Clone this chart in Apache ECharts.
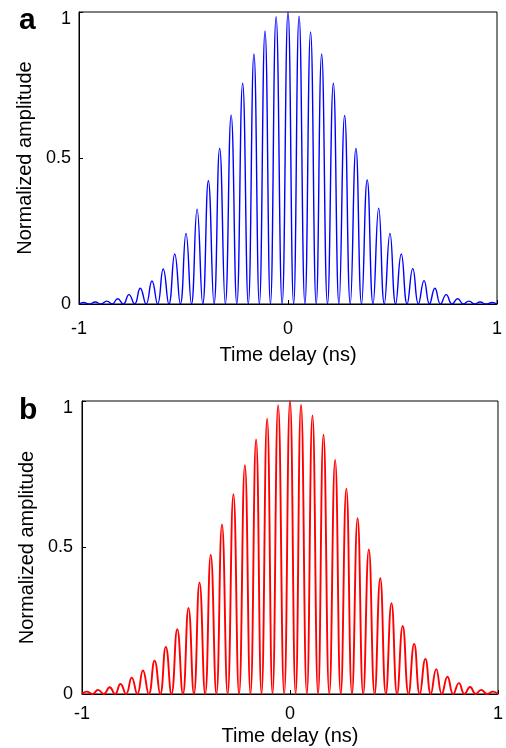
<!DOCTYPE html>
<html>
<head>
<meta charset="utf-8">
<script src="https://cdn.jsdelivr.net/npm/echarts@6/dist/echarts.min.js"></script>
<style>
  html, body { margin: 0; padding: 0; background: #fff; }
  #chart { width: 506px; height: 748px; }
</style>
</head>
<body>
<div id="chart"></div>
<script>
// fringe peak positions (ns), same comb in both panels
const peakTime = [-0.978, -0.923, -0.867, -0.815, -0.761, -0.707, -0.651, -0.597, -0.542, -0.488,
  -0.435, -0.381, -0.327, -0.272, -0.217, -0.163, -0.110, -0.057, 0, 0.053, 0.108, 0.161, 0.217,
  0.271, 0.325, 0.379, 0.434, 0.488, 0.542, 0.597, 0.651, 0.703, 0.757, 0.812, 0.866, 0.919, 0.976]
// dark fringes between the peaks (amplitude ~0)
const valleyTime = [-0.950, -0.895, -0.841, -0.788, -0.734, -0.679, -0.624, -0.570, -0.515, -0.462,
  -0.408, -0.354, -0.300, -0.245, -0.190, -0.137, -0.084, -0.028, 0.027, 0.081, 0.135, 0.189,
  0.244, 0.298, 0.352, 0.407, 0.461, 0.515, 0.570, 0.624, 0.677, 0.730, 0.785, 0.839, 0.893, 0.948]
// peak heights, panel a (blue)
const peakA = [0.005, 0.007, 0.010, 0.018, 0.032, 0.054, 0.079, 0.120, 0.171, 0.242, 0.325, 0.422,
  0.533, 0.647, 0.756, 0.856, 0.935, 0.984, 1.0, 0.986, 0.932, 0.856, 0.756, 0.646, 0.533, 0.425,
  0.328, 0.242, 0.171, 0.121, 0.080, 0.054, 0.032, 0.018, 0.010, 0.007, 0.005]
// peak heights, panel b (red)
const peakB = [0.008, 0.014, 0.023, 0.034, 0.056, 0.080, 0.114, 0.161, 0.221, 0.294, 0.380, 0.475,
  0.579, 0.682, 0.781, 0.869, 0.940, 0.986, 1.0, 0.987, 0.951, 0.885, 0.799, 0.701, 0.600, 0.493,
  0.395, 0.310, 0.232, 0.171, 0.120, 0.085, 0.059, 0.037, 0.024, 0.014, 0.008]
const yTicks = [0, 0.5, 1]
const xRange = [-1, 1]

const font = 'Liberation Sans, Arial, Helvetica, sans-serif'

function trace(peaks) {
  const pts = [[xRange[0], 0]]
  peakTime.forEach((t, i) => {
    pts.push([t, peaks[i]])
    if (i < valleyTime.length) pts.push([valleyTime[i], 0])
  })
  pts.push([xRange[1], 0])
  return pts
}

function xAxis(gridIndex, labelMargin, nameGap) {
  return {
    type: 'value', gridIndex, min: xRange[0], max: xRange[1], interval: 1,
    name: 'Time delay (ns)', nameLocation: 'middle', nameGap,
    nameTextStyle: { fontFamily: font, fontSize: 20, color: '#000' },
    axisLine: { onZero: false, lineStyle: { color: '#000', width: 1 } },
    axisTick: { inside: true, length: 4, lineStyle: { color: '#000' } },
    axisLabel: { fontFamily: font, fontSize: 18, color: '#000', margin: labelMargin },
    splitLine: { show: false },
  }
}

function yAxis(gridIndex, labelMargin, nameGap) {
  return {
    type: 'value', gridIndex, min: 0, max: 1,
    name: 'Normalized amplitude', nameLocation: 'middle', nameGap,
    nameTextStyle: { fontFamily: font, fontSize: 20, color: '#000' },
    axisLine: { onZero: false, lineStyle: { color: '#000', width: 1 } },
    axisTick: { inside: true, length: 4, customValues: yTicks, lineStyle: { color: '#000' } },
    axisLabel: {
      customValues: yTicks, margin: labelMargin,
      fontFamily: font, fontSize: 18, color: '#000',
      formatter: v => (v === 1 ? '{top|1}' : String(v)),
      rich: { top: { fontFamily: font, fontSize: 18, color: '#000', padding: [15, 0, 0, 0] } },
    },
    splitLine: { show: false },
  }
}

const chart = echarts.init(document.getElementById('chart'))
chart.setOption({
  animation: false,
  backgroundColor: '#fff',
  title: [
    { text: 'a', left: 14, top: 1, textStyle: { fontFamily: font, fontSize: 30, fontWeight: 'bold', color: '#000' } },
    { text: 'b', left: 14, top: 391, textStyle: { fontFamily: font, fontSize: 30, fontWeight: 'bold', color: '#000' } },
  ],
  grid: [
    { left: 79, top: 12, right: 9, height: 292, show: true, borderColor: '#000', borderWidth: 1 },
    { left: 82, top: 401, right: 5, height: 293, show: true, borderColor: '#000', borderWidth: 1 },
  ],
  xAxis: [xAxis(0, 16, 41), xAxis(1, 11, 32)],
  yAxis: [yAxis(0, 8, 42), yAxis(1, 9, 44)],
  series: [
    {
      type: 'line', xAxisIndex: 0, yAxisIndex: 0, data: trace(peakA),
      showSymbol: false, smooth: 0.5, lineStyle: { color: '#0000ff', width: 1.4 },
    },
    {
      type: 'line', xAxisIndex: 1, yAxisIndex: 1, data: trace(peakB),
      showSymbol: false, smooth: 0.5, lineStyle: { color: '#ff0000', width: 1.9 },
    },
  ],
})
</script>
</body>
</html>
